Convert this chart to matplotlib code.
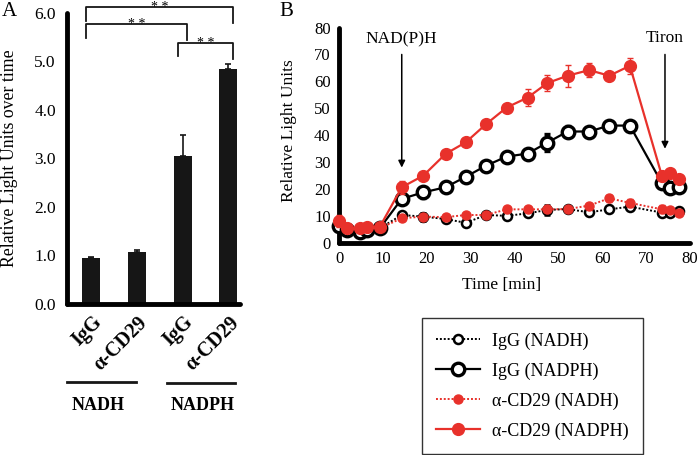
import matplotlib
matplotlib.use("Agg")
import matplotlib.pyplot as plt
import numpy as np

plt.rcParams['font.family'] = ['Liberation Serif', 'DejaVu Serif']

# ---- panel A data ----
bar_labels = ["IgG", "\u03b1-CD29", "IgG", "\u03b1-CD29"]
bar_means = [0.95, 1.07, 3.05, 4.85]
bar_errs = [0.02, 0.05, 0.43, 0.10]
groups = ["NADH", "NADPH"]
# significance brackets: (bar i, bar j, height)
brackets = [(0, 3, 6.12), (0, 2, 5.77), (2, 3, 5.38)]

# ---- panel B data ----
time = [0, 1.8, 4.8, 6.3, 9.3, 14.3, 19.2, 24.3, 28.9, 33.5, 38.2, 43, 47.5,
        52.1, 57, 61.6, 66.3, 73.6, 75.5, 77.4]
igg_nadh = [6.0, 5.0, 4.5, 5.0, 5.5, 10.4, 9.8, 8.9, 7.5, 10.4, 10.1, 11.0, 12.3,
            12.6, 11.4, 12.5, 13.5, 11.3, 11.0, 12.0]
igg_nadh_err = [0, 0, 0, 0, 0, 0.8, 1.5, 0, 0, 0, 0, 0, 1.8,
                0, 0, 0, 0.8, 0.8, 0, 0]
igg_nadph = [6.5, 5.0, 4.0, 5.0, 5.5, 16.4, 18.8, 20.7, 24.6, 28.7, 32.1, 33.2, 37.3,
             41.4, 41.4, 43.6, 43.6, 22.2, 20.6, 20.9]
igg_nadph_err = [0, 0, 0, 0, 0, 0, 2.0, 0, 0, 0, 1.5, 0, 3.0,
                 2.0, 0, 0, 0.8, 1.5, 0, 0]
cd29_nadh = [7.0, 5.5, 5.0, 5.5, 5.5, 9.2, 9.8, 9.6, 10.4, 10.4, 12.5, 12.5, 12.5,
             12.6, 13.9, 16.6, 14.9, 12.5, 12.3, 11.3]
cd29_nadh_err = [0, 0, 0, 0, 0, 0, 0, 0, 0, 0, 0, 0, 0,
                 0, 0, 1.3, 1.5, 1.5, 0, 0]
cd29_nadph = [8.1, 5.6, 5.6, 6.0, 6.0, 20.7, 25.0, 33.1, 37.4, 44.1, 50.3, 54.0, 59.4,
              62.1, 64.2, 62.1, 65.8, 24.9, 25.9, 23.8]
cd29_nadph_err = [2.3, 0, 0, 0, 0, 2.5, 0, 0, 0, 0, 0, 3.0, 3.0,
                  4.0, 2.5, 0, 3.0, 2.0, 1.5, 0]
legend_labels = ["IgG (NADH)", "IgG (NADPH)", "\u03b1-CD29 (NADH)", "\u03b1-CD29 (NADPH)"]

RED = "#e8312b"
DARK = "#161616"

fig = plt.figure(figsize=(7, 4.55), dpi=100)

# ================= Panel A =================
axA = fig.add_axes([0.0957, 0.3319, 0.247, 0.640])
x = np.arange(len(bar_means))
axA.bar(x, bar_means, width=0.39, color=DARK,
        yerr=[np.zeros(len(bar_errs)), bar_errs],
        error_kw=dict(ecolor=DARK, elinewidth=1.2, capsize=2.5, capthick=1.2))
axA.set_xlim(-0.52, 3.25)
axA.set_ylim(0, 6)
axA.set_yticks(np.arange(0, 6.1, 1.0))
axA.set_yticklabels(["%.1f" % v for v in np.arange(0, 6.1, 1.0)], fontsize=12.5)
axA.set_xticks([])
axA.tick_params(axis='y', length=0, pad=8)
for s in ["top", "right"]:
    axA.spines[s].set_visible(False)
for s in ["left", "bottom"]:
    axA.spines[s].set_linewidth(3.5)
    axA.spines[s].set_capstyle("round")
axA.set_ylabel("Relative Light Units over time", fontsize=12.8)
axA.yaxis.set_label_coords(-0.285, 0.5)

for xi, lab in zip(x, bar_labels):
    axA.text(xi + 0.17, -0.32, lab, rotation=45, ha="right", va="center",
             rotation_mode="anchor", fontsize=14.5, fontweight="bold", clip_on=False)

# group lines + labels
axA.plot([-0.52, 0.98], [-1.61, -1.61], color=DARK, lw=2, clip_on=False)
axA.plot([1.65, 3.15], [-1.63, -1.63], color=DARK, lw=2, clip_on=False)
axA.text(0.15, -2.1, groups[0], ha="center", va="center", fontsize=13,
         fontweight="bold", clip_on=False)
axA.text(2.43, -2.1, groups[1], ha="center", va="center", fontsize=13,
         fontweight="bold", clip_on=False)

# significance brackets
for i, j, h in brackets:
    xl, xr = x[i] - 0.1, x[j] + 0.09
    axA.plot([xl, xl, xr, xr], [h - 0.28, h, h, h - 0.34], color=DARK, lw=1.3,
             clip_on=False)
    axA.text((xl + xr) / 2, h - 0.09, "* *", ha="center", va="baseline",
             fontsize=10, clip_on=False)

fig.text(9 / 700, 1 - 12 / 455, "A", fontsize=15, ha="center", va="center")

# ================= Panel B =================
axB = fig.add_axes([0.4843, 0.4659, 0.5014, 0.4736])
axB.set_xlim(0, 80)
axB.set_ylim(0, 80)
axB.set_xticks(np.arange(0, 81, 10))
axB.set_yticks(np.arange(0, 81, 10))
axB.tick_params(length=0, labelsize=12)
axB.tick_params(axis='y', pad=6)
axB.tick_params(axis='x', pad=6)
for s in ["top", "right"]:
    axB.spines[s].set_visible(False)
for s in ["left", "bottom"]:
    axB.spines[s].set_linewidth(3.5)
    axB.spines[s].set_capstyle("round")
axB.set_ylabel("Relative Light Units", fontsize=12.5)
axB.yaxis.set_label_coords(-0.12, 0.52)
axB.set_xlabel("Time [min]", fontsize=12.5)
axB.xaxis.set_label_coords(0.464, -0.16)

h1 = axB.errorbar(time, igg_nadh, yerr=igg_nadh_err, color="black", ls=(0, (1, 1)),
                  lw=1.4, marker="o", ms=6.5, mfc="white", mec="black", mew=1.8,
                  ecolor="black", elinewidth=1, capsize=2.5, clip_on=False, zorder=3)
h3 = axB.errorbar(time, cd29_nadh, yerr=cd29_nadh_err, color=RED, ls=(0, (1, 1)),
                  lw=1.4, marker="o", ms=6.5, mfc=RED, mec=RED,
                  ecolor=RED, elinewidth=1, capsize=2.5, clip_on=False, zorder=4)
h2 = axB.errorbar(time, igg_nadph, yerr=igg_nadph_err, color="black", ls="-",
                  lw=1.6, marker="o", ms=9, mfc="white", mec="black", mew=2.4,
                  ecolor="black", elinewidth=1, capsize=2.5, clip_on=False, zorder=5)
h4 = axB.errorbar(time, cd29_nadph, yerr=cd29_nadph_err, color=RED, ls="-",
                  lw=1.6, marker="o", ms=8.5, mfc=RED, mec=RED,
                  ecolor=RED, elinewidth=1, capsize=2.5, clip_on=False, zorder=6)

axB.annotate("", xy=(14.3, 28), xytext=(14.3, 70),
             arrowprops=dict(arrowstyle="-|>", color="black", lw=1.1,
                             mutation_scale=10, shrinkA=0, shrinkB=0))
axB.text(14.3, 75.5, "NAD(P)H", ha="center", va="center", fontsize=12.5)
axB.annotate("", xy=(74.3, 35), xytext=(74.3, 70),
             arrowprops=dict(arrowstyle="-|>", color="black", lw=1.1,
                             mutation_scale=10, shrinkA=0, shrinkB=0))
axB.text(74.3, 76, "Tiron", ha="center", va="center", fontsize=12.5)

fig.text(286 / 700, 1 - 12 / 455, "B", fontsize=15, ha="center", va="center")

leg = fig.legend([h1[0], h2[0], h3[0], h4[0]], legend_labels,
                 loc="upper left", bbox_to_anchor=(422 / 700, 1 - 318 / 455),
                 fontsize=13, frameon=True, fancybox=False, edgecolor="black",
                 handlelength=2.4, handletextpad=0.7, borderpad=0.8,
                 labelspacing=0.7, borderaxespad=0)
leg.get_frame().set_linewidth(1.0)

fig.savefig("out.png", dpi=100)
